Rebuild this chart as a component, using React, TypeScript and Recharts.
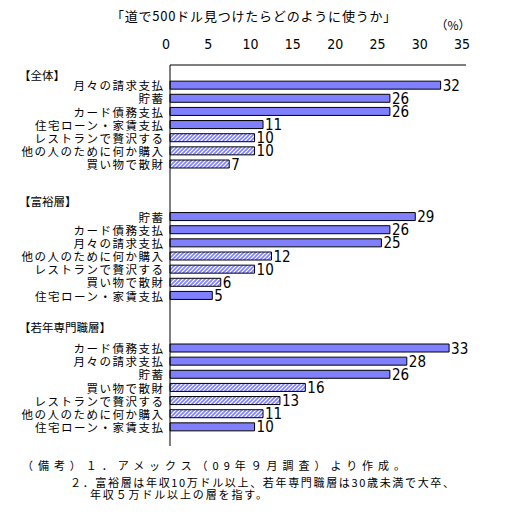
import { Bar, BarChart, Cell, LabelList, XAxis, YAxis } from "recharts";

const groupTitles = ["【全体】", "【富裕層】", "【若年専門職層】"];

const allLabels = [
  "月々の請求支払",
  "貯蓄",
  "カード債務支払",
  "住宅ローン・家賃支払",
  "レストランで贅沢する",
  "他の人のために何か購入",
  "買い物で散財",
];
const allValues = [32, 26, 26, 11, 10, 10, 7];

const wealthyLabels = [
  "貯蓄",
  "カード債務支払",
  "月々の請求支払",
  "他の人のために何か購入",
  "レストランで贅沢する",
  "買い物で散財",
  "住宅ローン・家賃支払",
];
const wealthyValues = [29, 26, 25, 12, 10, 6, 5];

const youngLabels = [
  "カード債務支払",
  "月々の請求支払",
  "貯蓄",
  "買い物で散財",
  "レストランで贅沢する",
  "他の人のために何か購入",
  "住宅ローン・家賃支払",
];
const youngValues = [33, 28, 26, 16, 13, 11, 10];

// spending on treats gets the hatched fill
const hatchedLabels = ["レストランで贅沢する", "他の人のために何か購入", "買い物で散財"];

const xTicks = [0, 5, 10, 15, 20, 25, 30, 35];

const notes = [
  "（備考）１．アメックス（09年９月調査）より作成。",
  "２．富裕層は年収10万ドル以上、若年専門職層は30歳未満で大卒、",
  "年収５万ドル以上の層を指す。",
];

type Row = { key: string; label: string; value?: number; header?: number; hatched?: boolean };

const groups = [
  { labels: allLabels, values: allValues },
  { labels: wealthyLabels, values: wealthyValues },
  { labels: youngLabels, values: youngValues },
];

const rows: Row[] = [];
groups.forEach((g, gi) => {
  if (gi > 0) {
    rows.push({ key: `gap${gi}a`, label: "" });
    rows.push({ key: `gap${gi}b`, label: "" });
  }
  rows.push({ key: `head${gi}`, label: groupTitles[gi], header: gi });
  g.labels.forEach((label, i) =>
    rows.push({
      key: `g${gi}-${i}`,
      label,
      value: g.values[i],
      hatched: hatchedLabels.includes(label),
    })
  );
});

const labelMap = Object.fromEntries(rows.map((r) => [r.key, r]));

const JP = "'Noto Sans CJK JP', sans-serif";
const NARROW = "'Liberation Sans Narrow', 'DejaVu Sans Condensed', sans-serif";
const BLUE = "#8080ff";
// group headings sit a little off their row centre
const headerShift = [3, -2, -7];

function CategoryTick(props: any) {
  const { y, payload } = props;
  const row = labelMap[payload.value];
  if (!row || !row.label) return null;
  if (row.header !== undefined) {
    return (
      <text x={19} y={y + headerShift[row.header]} fontFamily={JP} fontSize={11.5} fill="#000" dominantBaseline="central">
        {row.label}
      </text>
    );
  }
  return (
    <text
      x={164.5}
      y={y + 0.5}
      textAnchor="end"
      fontFamily={JP}
      fontSize={11.5}
      letterSpacing={1.5}
      fill="#000"
      dominantBaseline="central"
    >
      {row.label}
    </text>
  );
}

function ValueTick(props: any) {
  const { x, payload } = props;
  return (
    <text x={x - 4} y={44} textAnchor="middle" fontFamily={NARROW} fontSize={14} fill="#000" dominantBaseline="central">
      {payload.value}
    </text>
  );
}

function ValueLabel(props: any) {
  const { x, y, width, height, value } = props;
  if (value == null) return null;
  return (
    <text x={x + width + 2} y={y + height / 2 + 0.5} fontFamily={NARROW} fontSize={15} fill="#000" dominantBaseline="central">
      {value}
    </text>
  );
}

export default function App() {
  return (
    <div style={{ position: "absolute", left: 0, top: 0, width: 508, height: 518, background: "#fff" }}>
      <BarChart
        width={508}
        height={518}
        data={rows}
        layout="vertical"
        margin={{ top: 40, right: 42, bottom: 72, left: 0 }}
        barCategoryGap={0}
      >
        <defs>
          <pattern id="hatch" patternUnits="userSpaceOnUse" width="4" height="4">
            <rect width="4" height="4" fill="#fff" />
            <path d="M-1,1 l2,-2 M0,4 l4,-4 M3,5 l2,-2" stroke={BLUE} strokeWidth={1.6} />
          </pattern>
        </defs>
        <XAxis
          type="number"
          orientation="top"
          domain={[0, 35]}
          ticks={xTicks}
          height={25}
          axisLine={{ stroke: "#000" }}
          tickLine={false}
          tick={<ValueTick />}
        />
        <YAxis
          type="category"
          dataKey="key"
          width={170}
          axisLine={{ stroke: "#000" }}
          tickLine={false}
          interval={0}
          padding={{ top: 0, bottom: 13 }}
          tick={<CategoryTick />}
        />
        <Bar dataKey="value" barSize={8} stroke="#000" strokeWidth={1} isAnimationActive={false}>
          {rows.map((r) => (
            <Cell key={r.key} fill={r.hatched ? "url(#hatch)" : BLUE} />
          ))}
          <LabelList dataKey="value" content={<ValueLabel />} />
        </Bar>
      </BarChart>

      <svg width={508} height={518} style={{ position: "absolute", left: 0, top: 0, pointerEvents: "none" }}>
        <text
          x={254}
          y={15}
          textAnchor="middle"
          fontFamily={JP}
          fontSize={13}
          letterSpacing={0.8}
          fill="#000"
          dominantBaseline="central"
        >
          「道で500ドル見つけたらどのように使うか」
        </text>
        <text x={453} y={24} textAnchor="middle" fontFamily={JP} fontSize={12} fill="#000" dominantBaseline="central">
          （%）
        </text>
        <text x={22} y={465} textLength={383} lengthAdjust="spacing" fontFamily={JP} fontSize={11} fill="#000" dominantBaseline="central">
          {notes[0]}
        </text>
        <text x={70} y={481.5} textLength={384} lengthAdjust="spacing" fontFamily={JP} fontSize={11} fill="#000" dominantBaseline="central">
          {notes[1]}
        </text>
        <text x={90} y={494} textLength={177} lengthAdjust="spacing" fontFamily={JP} fontSize={11} fill="#000" dominantBaseline="central">
          {notes[2]}
        </text>
      </svg>
    </div>
  );
}
